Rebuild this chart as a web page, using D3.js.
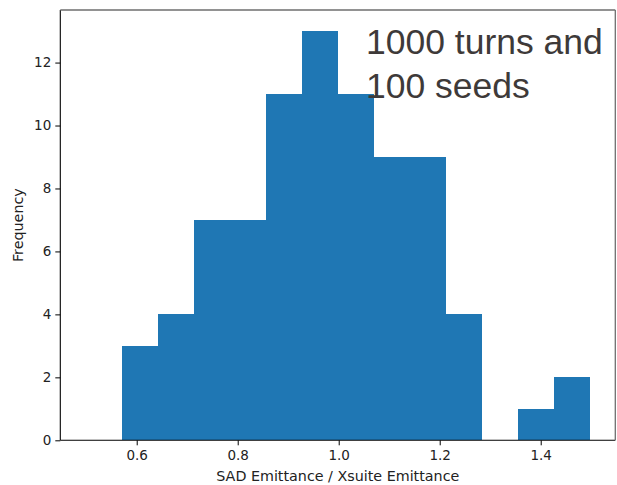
<!DOCTYPE html>
<html>
<head>
<meta charset="utf-8">
<script src="https://cdn.jsdelivr.net/npm/d3@7"></script>
<style>
  body { margin: 0; background: #fff; }
  svg { display: block; }
</style>
</head>
<body>
<script>
// histogram bins (left edges + last right edge) and counts
var binEdges = [0.5709, 0.6422, 0.7136, 0.7849, 0.8563, 0.9276, 0.9990, 1.0703, 1.1417, 1.2130, 1.2844, 1.3557, 1.4270, 1.4984];
var counts = [3, 4, 7, 7, 11, 13, 11, 9, 9, 4, 0, 1, 2];
var xTicks = [0.6, 0.8, 1.0, 1.2, 1.4];
var yTicks = [0, 2, 4, 6, 8, 10, 12];
var noteLines = ["1000 turns and", "100 seeds"];

var width = 617, height = 485;
// plot box (note: "top" is reserved on window, so prefixed names)
var pLeft = 60.3, pRight = 615.3, pTop = 10, pBottom = 440.3;

var svg = d3.select("body").append("svg")
  .attr("width", width)
  .attr("height", height);

var x = d3.scaleLinear().domain([0.4487, 1.5477]).range([pLeft, pRight]);
var y = d3.scaleLinear().domain([0, 13.67]).range([pBottom, pTop]);

var bins = counts.map(function(c, i) {
  return {x0: binEdges[i], x1: binEdges[i + 1], n: c};
});

// bars - crisp edges so neighbouring bins of equal height merge without seams
svg.append("g")
  .attr("shape-rendering", "crispEdges")
  .selectAll("rect")
  .data(bins.filter(function(d) { return d.n > 0; }))
  .enter()
  .append("rect")
  .attr("x", function(d) { return Math.round(x(d.x0)); })
  .attr("width", function(d) { return Math.round(x(d.x1)) - Math.round(x(d.x0)); })
  .attr("y", function(d) { return Math.round(y(d.n)); })
  .attr("height", function(d) { return Math.round(y(0)) - Math.round(y(d.n)); })
  .attr("fill", "#1f77b4");

// axes
var xAxis = svg.append("g")
  .attr("transform", "translate(0," + pBottom + ")")
  .call(d3.axisBottom(x).tickValues(xTicks).tickFormat(d3.format(".1f")).tickSizeOuter(0).tickSize(5).tickPadding(5));
var yAxis = svg.append("g")
  .attr("transform", "translate(" + pLeft + ",0)")
  .call(d3.axisLeft(y).tickValues(yTicks).tickFormat(d3.format("d")).tickSizeOuter(0).tickSize(5).tickPadding(4));

[xAxis, yAxis].forEach(function(a) {
  a.select(".domain").remove();
  a.selectAll("line").attr("stroke", "#000").attr("stroke-width", 1);
  a.selectAll("text")
    .attr("fill", "#222")
    .style("font-family", "DejaVu Sans")
    .style("font-size", "13.5px");
});

// spines
svg.append("line").attr("x1", pLeft).attr("x2", pLeft).attr("y1", pTop).attr("y2", pBottom)
  .attr("stroke", "#000").attr("stroke-width", 1.1);
svg.append("line").attr("x1", pLeft).attr("x2", pRight).attr("y1", pBottom).attr("y2", pBottom)
  .attr("stroke", "#000").attr("stroke-width", 1.1);
svg.append("line").attr("x1", pLeft).attr("x2", pRight).attr("y1", pTop).attr("y2", pTop)
  .attr("stroke", "#6e6e6e").attr("stroke-width", 1.3);
svg.append("line").attr("x1", pRight).attr("x2", pRight).attr("y1", pTop).attr("y2", pBottom)
  .attr("stroke", "#6e6e6e").attr("stroke-width", 1.3);

// axis labels
svg.append("text")
  .attr("x", (pLeft + pRight) / 2)
  .attr("y", 481)
  .attr("text-anchor", "middle")
  .attr("fill", "#222")
  .style("font-family", "DejaVu Sans")
  .style("font-size", "14.3px")
  .text("SAD Emittance / Xsuite Emittance");

svg.append("text")
  .attr("transform", "translate(23," + ((pTop + pBottom) / 2) + ") rotate(-90)")
  .attr("text-anchor", "middle")
  .attr("fill", "#222")
  .style("font-family", "DejaVu Sans")
  .style("font-size", "14.3px")
  .text("Frequency");

// annotation
svg.append("g").selectAll("text")
  .data(noteLines)
  .enter()
  .append("text")
  .attr("x", 366)
  .attr("y", function(d, i) { return 54 + i * 43.5; })
  .attr("fill", "#3e3a39")
  .style("font-family", "Liberation Sans, Arial, sans-serif")
  .style("font-size", "35.5px")
  .text(function(d) { return d; });
</script>
</body>
</html>
